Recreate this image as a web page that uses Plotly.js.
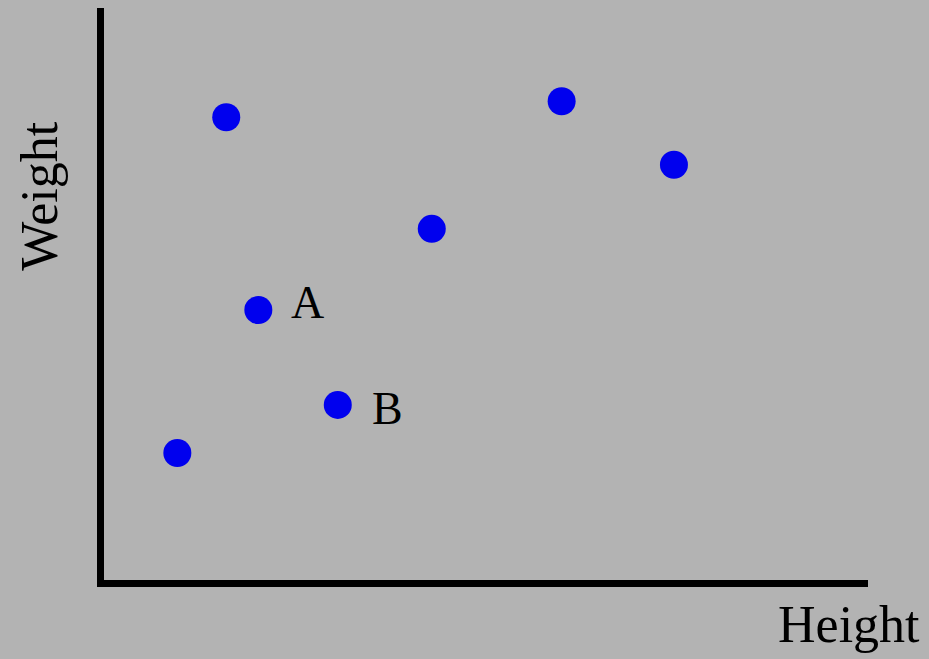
<!DOCTYPE html>
<html>
<head>
<meta charset="utf-8">
<script src="https://cdn.plot.ly/plotly-3.0.1.min.js"></script>
<style>html,body{margin:0;padding:0;background:#b3b3b3;}#chart{width:929px;height:659px;}</style>
</head>
<body>
<div id="chart"></div>
<script>
var heightVals = [1.60, 5.99, 7.46, 4.29, 2.02, 3.06, 0.96];
var weightVals = [8.09, 8.37, 7.26, 6.14, 4.72, 3.06, 2.22];
var pointLabels = ['', '', '', '', 'A', 'B', ''];
var xTitle = 'Height';
var yTitle = 'Weight';

var serif = '"Liberation Serif", "Times New Roman", serif';
// label placement styles (pixel offsets from the point)
var labelStyle = {A: {xshift: 49, yshift: 8}, B: {xshift: 50, yshift: -4}};

var annotations = [];
for (var i = 0; i < pointLabels.length; i++) {
  var lab = pointLabels[i];
  if (!lab) continue;
  annotations.push({
    x: heightVals[i], y: weightVals[i], xref: 'x', yref: 'y',
    text: lab, showarrow: false,
    xanchor: 'center', yanchor: 'middle',
    xshift: labelStyle[lab].xshift, yshift: labelStyle[lab].yshift,
    font: {family: serif, size: 46, color: '#000'}
  });
}
annotations.push({
  xref: 'paper', yref: 'paper', x: 1.0, y: 0, xanchor: 'right', yanchor: 'top',
  xshift: 54, yshift: -14,
  text: xTitle, showarrow: false,
  font: {family: serif, size: 52, color: '#000'}
});
annotations.push({
  xref: 'paper', yref: 'paper', x: 0, y: 0.67, xanchor: 'center', yanchor: 'middle',
  xshift: -64, textangle: -90,
  text: yTitle, showarrow: false,
  font: {family: serif, size: 52, color: '#000'}
});

var trace = {
  x: heightVals, y: weightVals, type: 'scatter', mode: 'markers',
  marker: {size: 28, color: '#0000ee'},
  hoverinfo: 'none'
};

var layout = {
  width: 929, height: 659,
  paper_bgcolor: '#b3b3b3', plot_bgcolor: '#b3b3b3',
  margin: {l: 104, r: 61, t: 8, b: 79},
  showlegend: false,
  xaxis: {range: [0, 10], showline: true, linewidth: 7, linecolor: '#000',
          showgrid: false, zeroline: false, showticklabels: false, ticks: ''},
  yaxis: {range: [0, 10], showline: true, linewidth: 7, linecolor: '#000',
          showgrid: false, zeroline: false, showticklabels: false, ticks: ''},
  annotations: annotations
};

Plotly.newPlot('chart', [trace], layout, {displayModeBar: false, staticPlot: true});
</script>
</body>
</html>
